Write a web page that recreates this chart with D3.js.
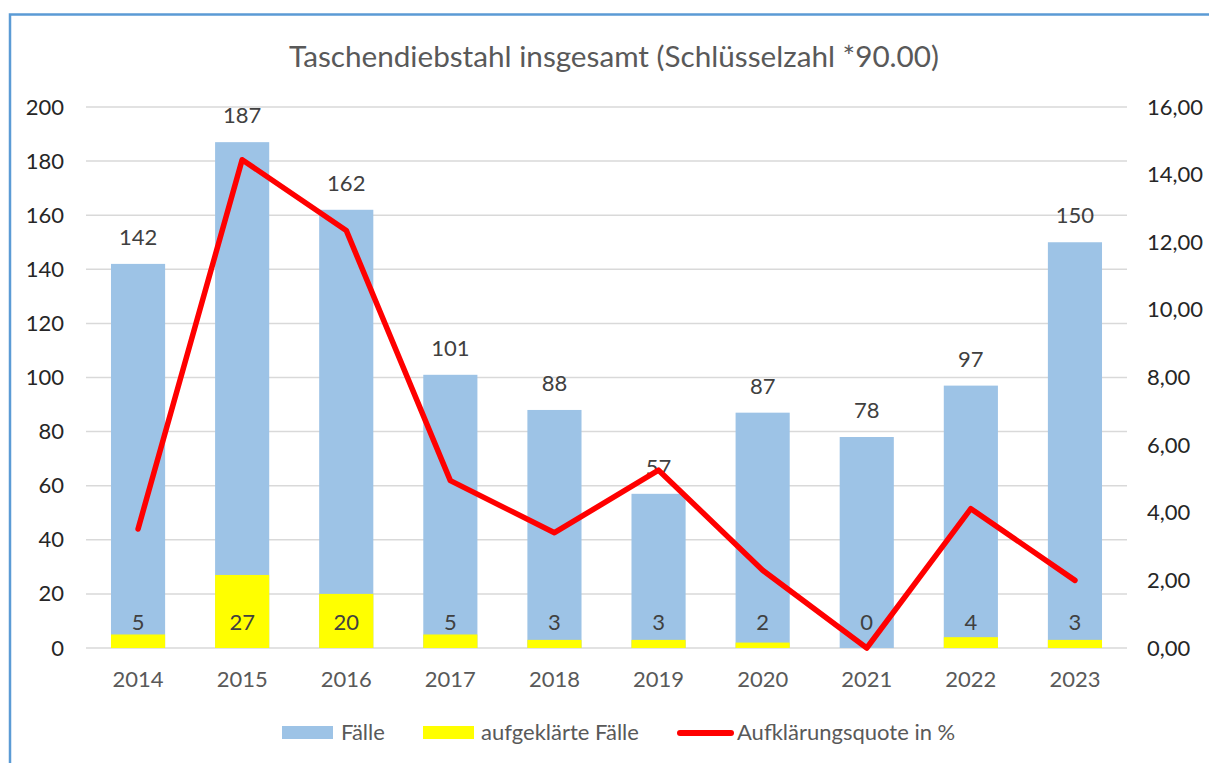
<!DOCTYPE html>
<html><head><meta charset="utf-8">
<script src="https://cdn.jsdelivr.net/npm/d3@7"></script>
<style>body{margin:0;background:#fff}svg{display:block}text{font-family:Lato,"Open Sans",sans-serif}</style>
</head><body>
<script>
const years = ["2014","2015","2016","2017","2018","2019","2020","2021","2022","2023"];
const faelle = [142,187,162,101,88,57,87,78,97,150];
const aufgeklaert = [5,27,20,5,3,3,2,0,4,3];
const quote = [3.52,14.44,12.35,4.95,3.41,5.26,2.30,0.00,4.12,2.00];
const leftTicks = [0,20,40,60,80,100,120,140,160,180,200];
const rightTicks = [0,2,4,6,8,10,12,14,16];
const title = "Taschendiebstahl insgesamt (Schlüsselzahl *90.00)";
const legendItems = ["Fälle","aufgeklärte Fälle","Aufklärungsquote in %"];

const W=1209,H=763, FS=22;
const svg=d3.select("body").append("svg").attr("width",W).attr("height",H);
// frame
svg.append("path").attr("d","M10,763 V14.5 H1209").attr("fill","none").attr("stroke","#5B9BD5").attr("stroke-width",2.5);

const x=d3.scaleBand().domain(years).range([86,1127]).paddingInner(0.48).paddingOuter(0.24);
const y=d3.scaleLinear().domain([0,200]).range([648,107]);
const y2=d3.scaleLinear().domain([0,16]).range([648,107]);

svg.append("text").attr("x",614).attr("y",67).attr("text-anchor","middle").attr("font-size",29.7).attr("fill","#595959").text(title);

// grid
svg.append("g").selectAll("line").data(leftTicks).join("line")
 .attr("x1",86).attr("x2",1127).attr("y1",d=>y(d)).attr("y2",d=>y(d)).attr("stroke","#d9d9d9").attr("stroke-width",1.5);

// left axis
const la=svg.append("g").attr("transform","translate(64,0)").call(d3.axisLeft(y).tickValues(leftTicks).tickSize(0).tickPadding(0));
la.select(".domain").remove();
la.selectAll("text").attr("font-size",FS).attr("fill","#262626").attr("font-family","Lato,sans-serif");
// right axis
const ra=svg.append("g").attr("transform","translate(1147,0)").call(d3.axisRight(y2).tickValues(rightTicks).tickSize(0).tickPadding(0).tickFormat(d=>d3.format(".2f")(d).replace(".",",")));
ra.select(".domain").remove();
ra.selectAll("text").attr("font-size",FS).attr("fill","#262626").attr("font-family","Lato,sans-serif").attr("text-anchor","start");
// bottom axis
const ba=svg.append("g").attr("transform","translate(0,648)").call(d3.axisBottom(x).tickSize(0).tickPadding(0));
ba.select(".domain").remove();
ba.selectAll("text").attr("font-size",FS).attr("fill","#595959").attr("font-family","Lato,sans-serif").attr("dy",null).attr("y",39);

// bars
svg.append("g").selectAll("rect").data(years).join("rect")
 .attr("x",d=>x(d)).attr("width",x.bandwidth()).attr("y",(d,i)=>y(faelle[i])).attr("height",(d,i)=>y(0)-y(faelle[i])).attr("fill","#9DC3E6");
svg.append("g").selectAll("rect").data(years).join("rect")
 .attr("x",d=>x(d)).attr("width",x.bandwidth()).attr("y",(d,i)=>y(aufgeklaert[i])).attr("height",(d,i)=>y(0)-y(aufgeklaert[i])).attr("fill","#FFFF00");

const cx=d=>x(d)+x.bandwidth()/2;
// value labels
svg.append("g").selectAll("text").data(years).join("text")
 .attr("x",cx).attr("y",(d,i)=>y(faelle[i])-19).attr("text-anchor","middle").attr("font-size",FS).attr("fill","#404040").text((d,i)=>faelle[i]);
svg.append("g").selectAll("text").data(years).join("text")
 .attr("x",cx).attr("y",630).attr("text-anchor","middle").attr("font-size",FS).attr("fill","#404040").text((d,i)=>aufgeklaert[i]);

// line
svg.append("path").datum(quote).attr("fill","none").attr("stroke","#FF0000").attr("stroke-width",5.5).attr("stroke-linejoin","round").attr("stroke-linecap","round")
 .attr("d",d3.line().x((d,i)=>cx(years[i])).y(d=>y2(d)));

// legend
const lg=svg.append("g").attr("font-size",FS).attr("fill","#595959");
lg.append("rect").attr("x",282).attr("y",726).attr("width",51).attr("height",13).attr("fill","#9DC3E6");
lg.append("text").attr("x",341).attr("y",740).text(legendItems[0]);
lg.append("rect").attr("x",423).attr("y",726).attr("width",51).attr("height",13).attr("fill","#FFFF00");
lg.append("text").attr("x",481).attr("y",740).text(legendItems[1]);
lg.append("line").attr("x1",680).attr("x2",731).attr("y1",733).attr("y2",733).attr("stroke","#FF0000").attr("stroke-width",6).attr("stroke-linecap","round");
lg.append("text").attr("x",737).attr("y",740).text(legendItems[2]);
</script>
</body></html>
